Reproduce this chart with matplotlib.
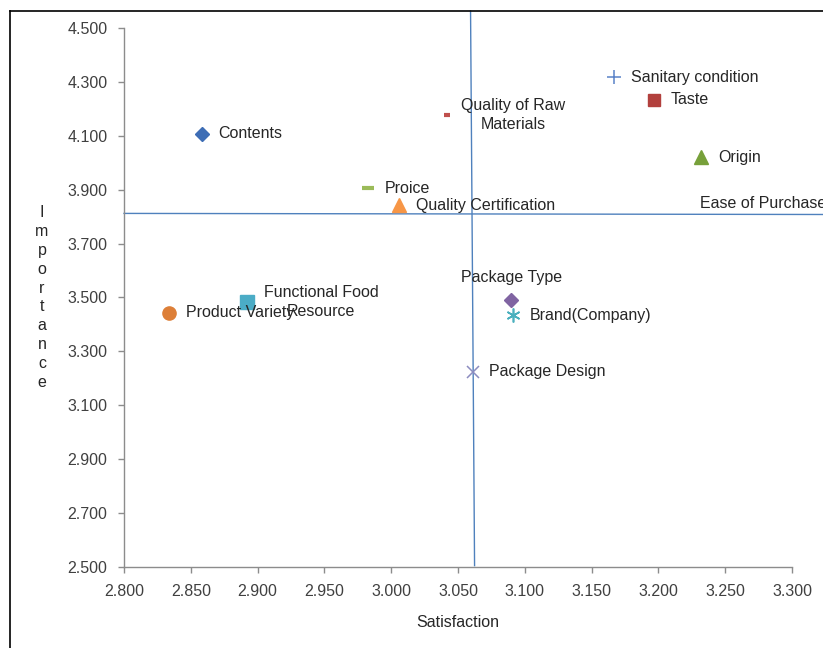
import numpy as np
import matplotlib
matplotlib.use("Agg")
from matplotlib import pyplot as plt
from matplotlib.lines import Line2D

plt.rcParams['font.family'] = ['Liberation Sans', 'DejaVu Sans']

# attributes: satisfaction (x), importance (y)
names = ["Contents", "Proice", "Quality Certification", "Quality of Raw\nMaterials",
         "Sanitary condition", "Taste", "Origin", "Ease of Purchase",
         "Package Type", "Brand(Company)", "Package Design",
         "Functional Food\nResource", "Product Variety"]
satisfaction = [2.858, 2.983, 3.006, 3.042, 3.167, 3.197, 3.232, 3.219,
                3.090, 3.091, 3.061, 2.892, 2.834]
importance = [4.107, 3.906, 3.843, 4.177, 4.318, 4.233, 4.021, 3.847,
              3.491, 3.435, 3.224, 3.483, 3.443]

# mean lines (drawn lines, slightly skewed as in the source)
sat_line_x = [3.0594, 3.0624]
sat_line_y = [4.563, 2.505]
imp_line_x = [2.800, 3.323]
imp_line_y = [3.812, 3.808]

xticks = [2.80, 2.85, 2.90, 2.95, 3.00, 3.05, 3.10, 3.15, 3.20, 3.25, 3.30]
yticks = [2.5, 2.7, 2.9, 3.1, 3.3, 3.5, 3.7, 3.9, 4.1, 4.3, 4.5]

styles = [
    dict(marker='D', ms=7, color='#3D6DB5'),
    dict(marker='_', ms=9, mew=3, color='#9BBB59'),
    dict(marker='^', ms=9.5, color='#F79646'),
    dict(marker='_', ms=5, mew=3, color='#C0504D'),
    dict(marker='+', ms=10, mew=1.1, color='#5A82C8'),
    dict(marker='s', ms=9, color='#B2403D'),
    dict(marker='^', ms=9.5, color='#77A03A'),
    dict(marker='None', color='#4F81BD'),
    dict(marker='D', ms=7, color='#8064A2'),
    dict(marker=(6, 2, 0), ms=10, mew=1.2, color='#4BB0BE'),
    dict(marker='x', ms=9, mew=1.1, color='#8C8CC0'),
    dict(marker='s', ms=9.5, color='#4BACC6'),
    dict(marker='o', ms=9.5, color='#DD7F38'),
]

fig = plt.figure(figsize=(8.23, 6.48), dpi=100)
ax = fig.add_axes([0.1507, 0.125, 0.8116, 0.8318])

for xv, yv, nm, st in zip(satisfaction, importance, names, styles):
    ax.plot([xv], [yv], linestyle='None', mec=st['color'], mfc=st['color'],
            clip_on=False, zorder=3,
            **{k: v for k, v in st.items() if k != 'color'})
    if nm == "Package Type":
        ax.annotate(nm, (xv, yv), xytext=(0, 16), textcoords='offset points',
                    ha='center', va='center', fontsize=11.5, color='#262626',
                    annotation_clip=False, zorder=4)
    else:
        dx = 10 if nm.startswith("Quality of") else 12
        ax.annotate(nm, (xv, yv), xytext=(dx, 0), textcoords='offset points',
                    ha='left', va='center', multialignment='center',
                    fontsize=11.5, color='#262626', linespacing=1.4,
                    annotation_clip=False, zorder=4)

ax.plot(sat_line_x, sat_line_y, color='#4F81BD', lw=1.0, clip_on=False, zorder=2)
ax.plot(imp_line_x, imp_line_y, color='#4F81BD', lw=1.0, clip_on=False, zorder=2)

ax.set_xlim(2.8, 3.3)
ax.set_ylim(2.5, 4.5)
ax.set_xticks(xticks)
ax.set_yticks(yticks)
ax.set_xticklabels([f"{t:.3f}" for t in xticks])
ax.set_yticklabels([f"{t:.3f}" for t in yticks])

for side in ['top', 'right']:
    ax.spines[side].set_visible(False)
for side in ['left', 'bottom']:
    ax.spines[side].set_color('#8C8C8C')
    ax.spines[side].set_linewidth(1.0)
ax.tick_params(direction='out', length=4, width=1.0, color='#8C8C8C',
               labelsize=11.5, labelcolor='#404040', pad=8)

ax.set_xlabel("Satisfaction", fontsize=11.5, color='#262626', labelpad=12)
ax.set_ylabel("\n".join("Importance"), rotation=0, fontsize=11.5,
              color='#262626', linespacing=1.33, ha='center', va='center')
ax.yaxis.set_label_coords(-0.1228, 0.5)

# frame of the original picture
fig.add_artist(Line2D([10 / 823, 1.0], [637 / 648, 637 / 648], color='black', lw=1.2,
                      transform=fig.transFigure))
fig.add_artist(Line2D([10 / 823, 10 / 823], [0.0, 637 / 648], color='black', lw=1.2,
                      transform=fig.transFigure))

fig.savefig("out.png", dpi=100)
